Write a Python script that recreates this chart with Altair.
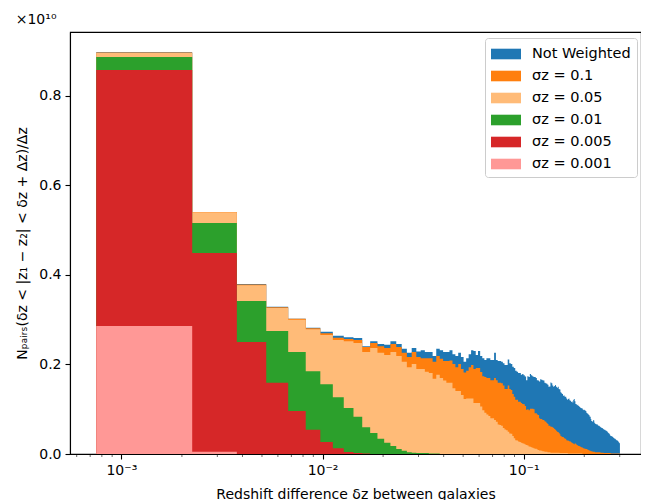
import altair as alt
import pandas as pd

# histogram binning (bin edges in redshift difference)
first_edge = 0.00075
bin_width = 0.0015

# values per bin, in units of 1e10
not_weighted = [
    0.898, 0.541, 0.380, 0.329, 0.302, 0.282, 0.273, 0.264, 0.261, 0.259,
    0.241, 0.252, 0.246, 0.244, 0.252, 0.246, 0.235, 0.226, 0.237, 0.229,
    0.232, 0.228, 0.228, 0.219, 0.235, 0.232, 0.228, 0.228, 0.232, 0.223,
    0.219, 0.226, 0.217, 0.206, 0.214, 0.223, 0.232, 0.230, 0.221, 0.230,
    0.219, 0.214, 0.210, 0.214, 0.214, 0.210, 0.210, 0.226, 0.210, 0.208,
    0.208, 0.206, 0.203, 0.199, 0.199, 0.211, 0.203, 0.201, 0.195, 0.192,
    0.186, 0.184, 0.181, 0.181, 0.177, 0.179, 0.176, 0.173, 0.165, 0.174,
    0.172, 0.179, 0.176, 0.174, 0.172, 0.172, 0.170, 0.165, 0.164, 0.162,
    0.167, 0.166, 0.165, 0.164, 0.159, 0.158, 0.157, 0.155, 0.150, 0.151,
    0.160, 0.158, 0.153, 0.150, 0.152, 0.154, 0.150, 0.148, 0.150, 0.145,
    0.144, 0.138, 0.136, 0.134, 0.130, 0.131, 0.128, 0.128, 0.124, 0.121,
    0.123, 0.124, 0.120, 0.119, 0.116, 0.118, 0.115, 0.121, 0.123, 0.118,
    0.112, 0.111, 0.109, 0.110, 0.107, 0.106, 0.105, 0.103, 0.102, 0.103,
    0.100, 0.099, 0.098, 0.099, 0.097, 0.096, 0.092, 0.091, 0.090, 0.088,
    0.087, 0.084, 0.083, 0.078, 0.074, 0.073, 0.072, 0.076, 0.075, 0.070,
    0.068, 0.067, 0.066, 0.067, 0.066, 0.064, 0.063, 0.063, 0.062, 0.061,
    0.060, 0.059, 0.058, 0.058, 0.057, 0.056, 0.055, 0.054, 0.054, 0.053,
    0.052, 0.052, 0.051, 0.050, 0.048, 0.047, 0.046, 0.045, 0.043, 0.041,
    0.040, 0.040, 0.039, 0.039, 0.038, 0.037, 0.036, 0.035, 0.034, 0.034,
    0.033, 0.032, 0.031, 0.031, 0.030, 0.029, 0.028, 0.026, 0.025, 0.024,
]

sigma_0_1 = [
    0.897, 0.541, 0.379, 0.328, 0.302, 0.281, 0.270, 0.260, 0.257, 0.255,
    0.239, 0.248, 0.241, 0.237, 0.246, 0.239, 0.226, 0.217, 0.228, 0.217,
    0.214, 0.214, 0.214, 0.206, 0.219, 0.213, 0.208, 0.208, 0.209, 0.201,
    0.194, 0.201, 0.190, 0.182, 0.186, 0.194, 0.199, 0.190, 0.192, 0.192,
    0.183, 0.174, 0.172, 0.170, 0.170, 0.165, 0.165, 0.170, 0.165, 0.159,
    0.159, 0.158, 0.153, 0.145, 0.145, 0.153, 0.145, 0.143, 0.134, 0.128,
    0.121, 0.121, 0.117, 0.117, 0.114, 0.112, 0.111, 0.107, 0.099, 0.100,
    0.098, 0.101, 0.101, 0.101, 0.100, 0.091, 0.091, 0.088, 0.087, 0.080,
    0.078, 0.078, 0.076, 0.076, 0.073, 0.072, 0.069, 0.067, 0.063, 0.063,
    0.061, 0.061, 0.060, 0.058, 0.056, 0.054, 0.052, 0.050, 0.049, 0.047,
    0.044, 0.040, 0.039, 0.038, 0.038, 0.036, 0.034, 0.034, 0.031, 0.030,
    0.030, 0.029, 0.028, 0.028, 0.026, 0.025, 0.024, 0.023, 0.022, 0.024,
    0.023, 0.021, 0.020, 0.019, 0.018, 0.018, 0.017, 0.016, 0.015, 0.015,
    0.014, 0.013, 0.013, 0.012, 0.012, 0.011, 0.011, 0.010, 0.010, 0.009,
    0.008, 0.008, 0.007, 0.006, 0.006, 0.006, 0.005, 0.005, 0.005, 0.005,
    0.004, 0.004, 0.004, 0.004, 0.004, 0.004, 0.004, 0.004, 0.004, 0.004,
    0.003, 0.003, 0.003, 0.003, 0.003, 0.003, 0.002, 0.002, 0.002, 0.002,
    0.002, 0.002, 0.002, 0.002, 0.002, 0.002, 0.002, 0.002, 0.002, 0.002,
    0.001, 0.001, 0.001, 0.001, 0.001, 0.001, 0.001, 0.001, 0.001, 0.001,
    0.001, 0.001, 0.001, 0.001, 0.001, 0.001, 0.001, 0.001, 0.001, 0.001,
]

sigma_0_05 = [
    0.896, 0.540, 0.377, 0.326, 0.300, 0.279, 0.266, 0.255, 0.252, 0.248,
    0.228, 0.237, 0.226, 0.221, 0.228, 0.219, 0.206, 0.194, 0.201, 0.190,
    0.190, 0.184, 0.181, 0.168, 0.177, 0.170, 0.164, 0.159, 0.159, 0.147,
    0.141, 0.141, 0.132, 0.123, 0.124, 0.124, 0.124, 0.114, 0.114, 0.114,
    0.106, 0.098, 0.092, 0.088, 0.085, 0.080, 0.080, 0.076, 0.072, 0.066,
    0.065, 0.063, 0.058, 0.055, 0.053, 0.050, 0.046, 0.045, 0.040, 0.035,
    0.031, 0.030, 0.028, 0.027, 0.025, 0.024, 0.023, 0.021, 0.020, 0.019,
    0.017, 0.016, 0.015, 0.014, 0.013, 0.012, 0.012, 0.010, 0.009, 0.008,
    0.008, 0.007, 0.006, 0.006, 0.005, 0.005, 0.005, 0.004, 0.004, 0.004,
    0.003, 0.003, 0.003, 0.003, 0.003, 0.003, 0.003, 0.003, 0.003, 0.003,
    0.002, 0.002, 0.002, 0.002, 0.002, 0.002, 0.002, 0.002, 0.002, 0.002,
    0.001, 0.001, 0.001, 0.001, 0.001, 0.001, 0.001, 0.001, 0.001, 0.001,
    0.001, 0.001, 0.001, 0.001, 0.001, 0.001, 0.001, 0.001, 0.001, 0.001,
]

sigma_0_01 = [
    0.887, 0.516, 0.342, 0.275, 0.228, 0.185, 0.156, 0.127, 0.103, 0.083,
    0.060, 0.047, 0.034, 0.025, 0.018, 0.011, 0.007, 0.004, 0.003, 0.002,
    0.002, 0.002, 0.001, 0.001, 0.001,
]

sigma_0_005 = [
    0.858, 0.449, 0.250, 0.159, 0.096, 0.054, 0.027, 0.013, 0.0045, 0.002,
    0.001,
]

sigma_0_001 = [0.286, 0.005]

series_names = [
    "Not Weighted",
    "σz = 0.1",
    "σz = 0.05",
    "σz = 0.01",
    "σz = 0.005",
    "σz = 0.001",
]
series_values = [not_weighted, sigma_0_1, sigma_0_05, sigma_0_01, sigma_0_005, sigma_0_001]
series_colors = ["#1f77b4", "#ff7f0e", "#ffbb78", "#2ca02c", "#d62728", "#ff9896"]

x_major_ticks = [0.001, 0.01, 0.1]
x_minor_ticks = [
    0.0006, 0.0007, 0.0008, 0.0009,
    0.002, 0.003, 0.004, 0.005, 0.006, 0.007, 0.008, 0.009,
    0.02, 0.03, 0.04, 0.05, 0.06, 0.07, 0.08, 0.09,
    0.2, 0.3,
]
y_ticks = [0.0, 0.2, 0.4, 0.6, 0.8]

rows = []
for name, vals in zip(series_names, series_values):
    for i, v in enumerate(vals):
        rows.append({"series": name, "edge": first_edge + i * bin_width, "count": v})
    rows.append({"series": name, "edge": first_edge + len(vals) * bin_width, "count": vals[-1]})
df = pd.DataFrame(rows)

W, H = 571, 422

x_scale = alt.Scale(type="log", domain=[0.0005556, 0.3828], nice=False)
y_scale = alt.Scale(domain=[0, 0.943], nice=False, zero=True)

x_axis = alt.Axis(
    values=x_major_ticks,
    labelExpr="datum.value < 0.005 ? '10⁻³' : (datum.value < 0.05 ? '10⁻²' : '10⁻¹')",
    title="Redshift difference δz between galaxies",
    tickSize=5,
    labelPadding=4,
    titlePadding=10,
)
y_axis = alt.Axis(
    values=y_ticks,
    format=".1f",
    title="Nₚₐᵢᵣₛ(δz < |z₁ − z₂| < δz + Δz)/Δz",
    tickSize=5,
    labelPadding=4,
    titlePadding=9,
)
color_enc = alt.Color(
    "series:N",
    scale=alt.Scale(domain=series_names, range=series_colors),
    title=None,
    legend=alt.Legend(
        orient="none",
        legendX=415,
        legendY=6,
        symbolType="M-1,-0.53L2,-0.53L2,0.53L-1,0.53Z",
        symbolSize=400,
        symbolStrokeWidth=0,
        labelOffset=21,
        labelFontSize=14.5,
        labelFont="DejaVu Sans",
        labelColor="black",
        rowPadding=5,
        padding=6,
        strokeColor="#cccccc",
        fillColor="rgba(255,255,255,0.8)",
        cornerRadius=3,
    ),
)

layers = []
for name in series_names:
    layers.append(
        alt.Chart(df)
        .transform_filter(alt.datum.series == name)
        .mark_area(interpolate="step-after")
        .encode(
            x=alt.X("edge:Q", scale=x_scale, axis=x_axis),
            y=alt.Y("count:Q", scale=y_scale, axis=y_axis, stack=None),
            color=color_enc,
        )
    )

minor = (
    alt.Chart(pd.DataFrame({"edge": x_minor_ticks}))
    .mark_rule(color="black", strokeWidth=0.6)
    .encode(
        x=alt.X("edge:Q", scale=x_scale, axis=x_axis),
        y=alt.value(H),
        y2=alt.value(H + 3),
    )
)

chart = (
    alt.layer(*layers, minor)
    .properties(
        width=W,
        height=H,
        title=alt.TitleParams("×10¹⁰", anchor="start", offset=5),
        padding={"left": 62, "top": 24, "right": 0, "bottom": 46},
        autosize=alt.AutoSizeParams(type="none"),
    )
    .configure_view(stroke="black", strokeWidth=1.1)
    .configure_axis(
        grid=False,
        domainColor="black",
        domainWidth=1.1,
        tickColor="black",
        tickWidth=1.1,
        labelColor="black",
        titleColor="black",
        labelFont="DejaVu Sans",
        titleFont="DejaVu Sans",
        labelFontSize=14,
        titleFontSize=14,
        titleFontWeight="normal",
    )
    .configure_title(font="DejaVu Sans", fontSize=14, fontWeight="normal", color="black")
)

chart.save("out.html", embed_options={"renderer": "svg", "actions": False})
